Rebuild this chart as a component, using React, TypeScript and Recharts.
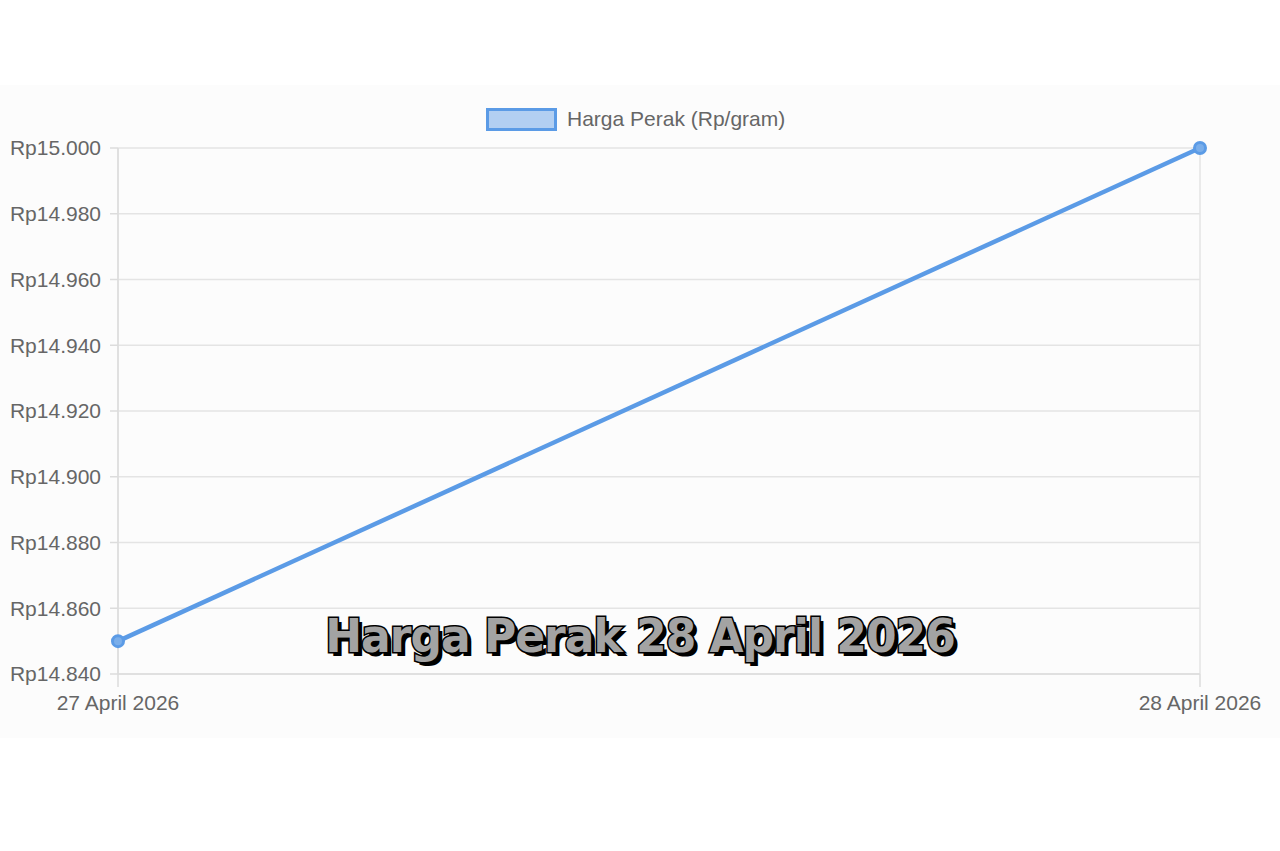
import React from "react";
import { LineChart, Line, XAxis, YAxis, CartesianGrid, Legend } from "recharts";

const dates = ["27 April 2026", "28 April 2026"];
const prices = [14850, 15000];
const yTicks = [14840, 14860, 14880, 14900, 14920, 14940, 14960, 14980, 15000];

const data = dates.map((d, i) => ({ date: d, price: prices[i] }));

const LINE_COLOR = "#5b9be6";
const FONT = "'Liberation Sans', Arial, sans-serif";

const formatRp = (v: number) => "Rp" + v.toLocaleString("de-DE");

const LegendBox = () => (
  <div style={{ display: "flex", alignItems: "center", fontFamily: FONT }}>
    <div
      style={{
        width: 65,
        height: 17,
        background: "#b2cff2",
        border: `3px solid ${LINE_COLOR}`,
        marginRight: 10,
      }}
    />
    <span style={{ fontSize: 21, color: "#666" }}>Harga Perak (Rp/gram)</span>
  </div>
);

export default function App() {
  return (
    <div
      style={{
        position: "fixed",
        top: 0,
        left: 0,
        width: 1280,
        height: 851,
        background: "#fff",
        overflow: "hidden",
      }}
    >
      <div
        style={{
          position: "absolute",
          top: 85,
          left: 0,
          width: 1280,
          height: 653,
          background: "#fcfcfc",
        }}
      />
      <div style={{ position: "absolute", top: 0, left: 0 }}>
        <LineChart
          width={1280}
          height={851}
          data={data}
          margin={{ top: 124, right: 80, bottom: 177 - 40, left: 8 }}
        >
          <CartesianGrid stroke="#e4e4e4" strokeWidth={1.5} />
          <XAxis
            dataKey="date"
            height={40}
            padding={{ left: 0, right: 0 }}
            tickSize={13}
            tickMargin={8}
            stroke="#dcdcdc"
            strokeWidth={1.5}
            tick={{ fill: "#666", fontSize: 21, fontFamily: FONT }}
          />
          <YAxis
            width={110}
            domain={[14840, 15000]}
            ticks={yTicks}
            tickFormatter={formatRp}
            tickSize={8}
            tickMargin={9}
            stroke="#dcdcdc"
            strokeWidth={1.5}
            tick={{ fill: "#666", fontSize: 21, fontFamily: FONT }}
          />
          <Legend
            verticalAlign="top"
            content={() => <LegendBox />}
            wrapperStyle={{ top: 107, left: 486, width: "auto" }}
          />
          <Line
            type="linear"
            dataKey="price"
            stroke={LINE_COLOR}
            strokeWidth={4.5}
            dot={{ r: 5.5, fill: "#7aaeea", stroke: LINE_COLOR, strokeWidth: 3 }}
            isAnimationActive={false}
          />
        </LineChart>
      </div>
      <div
        style={{
          position: "absolute",
          top: 610,
          left: 0,
          width: 1280,
          textAlign: "center",
          fontFamily: "'DejaVu Sans', sans-serif",
          fontWeight: 900,
          fontSize: 44,
          letterSpacing: -1,
          color: "#a3a3a3",
          WebkitTextStroke: "3px #000",
          paintOrder: "stroke fill",
          textShadow: "4px 4px 0 #000",
          transform: "scaleY(1.05)",
        }}
      >
        Harga Perak 28 April 2026
      </div>
    </div>
  );
}
